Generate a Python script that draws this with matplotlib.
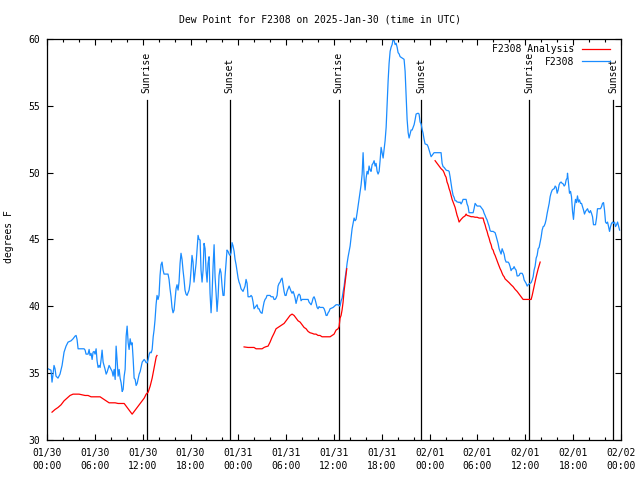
import numpy as np
import matplotlib
matplotlib.use("Agg")
import matplotlib.pyplot as plt
from matplotlib.ticker import MultipleLocator

# ---- data (hours since 2025-01-30 00:00 UTC, degrees F) ----
blue_t = [0.13, 0.50, 0.63, 0.76, 0.88, 1.01, 1.13, 1.38, 1.63, 1.89, 2.14, 2.39, 2.64, 3.02, 3.27, 3.52, 3.65, 3.77, 3.90, 4.27,
          4.65, 4.78, 4.90, 5.15, 5.28, 5.40, 5.53, 5.66, 5.78, 5.91, 6.03, 6.16, 6.28, 6.41, 6.54, 6.66, 6.79, 6.91, 7.04, 7.16,
          7.29, 7.42, 7.54, 7.67, 7.79, 7.92, 8.04, 8.17, 8.29, 8.42, 8.55, 8.67, 8.80, 8.92, 9.05, 9.17, 9.30, 9.43, 9.55, 9.68,
          9.80, 9.93, 10.05, 10.18, 10.30, 10.43, 10.56, 10.68, 10.81, 10.93, 11.06, 11.18, 11.31, 11.44, 11.56, 11.69, 11.81,
          11.94, 12.06, 12.19, 12.31, 12.44, 12.57, 12.69, 12.82, 12.94, 13.07, 13.19, 13.32,
          13.43, 13.55, 13.68, 13.8, 13.93, 14.05, 14.18, 14.3, 14.43, 14.56, 14.68, 14.93, 15.18, 15.31, 15.43, 15.56, 15.68,
          15.81, 15.94, 16.06, 16.19, 16.31, 16.44, 16.56, 16.69, 16.81, 16.94, 17.06, 17.19, 17.31, 17.44, 17.57, 17.69, 17.82,
          17.94, 18.07, 18.19, 18.32, 18.44, 18.57, 18.7, 18.82, 18.95, 19.07, 19.2, 19.32, 19.45, 19.58, 19.7, 19.83, 19.95,
          20.08, 20.2, 20.33, 20.45, 20.58, 20.7, 20.83, 20.96, 21.08, 21.21, 21.33, 21.46, 21.58, 21.71, 21.83, 21.96, 22.08,
          22.21, 22.33, 22.46, 22.58, 22.71, 22.84, 22.96, 23.09, 23.21, 23.34, 23.47,
          23.59, 23.72, 23.84, 23.97, 24.09, 24.22, 24.34, 24.47, 24.59, 24.72, 24.84, 24.97, 25.1, 25.22, 25.47, 25.6, 25.72,
          25.85, 25.97, 26.1, 26.22, 26.35, 26.48, 26.6, 26.73, 26.85, 26.98, 27.1, 27.23, 27.35, 27.48, 27.6, 27.73, 27.86,
          27.98, 28.11, 28.23, 28.36, 28.48, 28.61, 28.73, 28.86, 28.98, 29.11, 29.24, 29.36, 29.49, 29.61, 29.74, 29.86, 29.99,
          30.11, 30.24, 30.37, 30.49, 30.62, 30.74, 30.87, 30.99, 31.12, 31.24, 31.37, 31.49, 31.62, 31.75, 31.87, 32.0, 32.12,
          32.25, 32.37, 32.5, 32.62, 32.75, 32.87, 33.0, 33.13, 33.25, 33.38, 33.5, 33.63, 33.75, 33.88, 34.0, 34.13, 34.25,
          34.38, 34.5, 34.63, 34.76, 34.88, 35.01, 35.13, 35.26, 35.38,
          35.51, 35.89, 36.26, 36.51, 36.76, 36.89, 37.02, 37.14, 37.27, 37.39, 37.52, 37.64, 37.77, 37.89, 38.02, 38.14, 38.27,
          38.4, 38.52, 38.65, 38.77, 38.9, 39.02, 39.15, 39.27, 39.4, 39.53, 39.65, 39.78, 39.9, 40.03, 40.15, 40.28, 40.4,
          40.53, 40.65, 40.78, 40.9, 41.03, 41.16, 41.28, 41.41, 41.53, 41.66, 41.78, 41.91, 42.03, 42.16, 42.28, 42.41, 42.54,
          42.66, 42.79, 42.91, 43.04, 43.16, 43.29, 43.41, 43.54, 43.67, 43.79, 43.92, 44.04, 44.17, 44.29, 44.54, 44.79, 44.92,
          45.05, 45.17, 45.3, 45.42, 45.55, 45.67, 45.8, 45.92, 46.05,
          46.17, 46.3, 46.55, 46.67, 46.8, 46.92, 47.05, 47.17, 47.3, 47.42, 47.68, 47.8, 47.93, 48.05, 48.18, 48.3, 48.43,
          48.55, 48.8, 49.06, 49.31, 49.43, 49.56, 49.68, 49.81, 49.93, 50.06, 50.18, 50.31, 50.44, 50.56, 50.69, 50.81, 50.94,
          51.06, 51.19, 51.31, 51.44, 51.56, 51.69, 51.81, 51.94, 52.07, 52.19, 52.44, 52.57, 52.69, 52.82, 52.94, 53.2, 53.45,
          53.57, 53.7, 53.82, 53.95, 54.33, 54.58, 54.7, 54.83, 54.95, 55.08, 55.2, 55.33, 55.45, 55.58, 55.71, 55.96, 56.21,
          56.33, 56.46, 56.58, 56.71, 56.84, 56.96, 57.09, 57.21, 57.34, 57.46, 57.59, 57.84, 57.96, 58.09, 58.21, 58.34, 58.46,
          58.59, 58.71, 58.84, 58.97, 59.09, 59.22,
          59.35, 59.6, 59.73, 59.85, 60.1, 60.23, 60.35, 60.6, 60.73, 60.86, 60.98, 61.1, 61.23, 61.36, 61.48, 61.61, 61.73,
          61.86, 61.98, 62.11, 62.24, 62.36, 62.49, 62.61, 62.74, 62.86, 62.99, 63.11, 63.24, 63.37, 63.49, 63.62, 63.74, 63.87,
          63.99, 64.12, 64.24, 64.37, 64.49, 64.62, 64.75, 64.87, 65.0, 65.12, 65.25, 65.29, 65.41, 65.54, 65.67, 65.79, 65.92,
          66.04, 66.17, 66.29, 66.42, 66.54, 66.67, 66.79, 66.92, 67.05, 67.17, 67.3, 67.42, 67.55, 67.67, 67.8, 67.92, 68.05,
          68.17, 68.3, 68.43, 68.55, 68.8, 68.93, 69.05, 69.18, 69.3, 69.43, 69.56, 69.68, 69.81, 69.93, 70.06, 70.18, 70.31,
          70.44, 70.56, 70.69, 70.81, 70.94, 71.06, 71.19, 71.31, 71.44, 71.57, 71.69, 71.82]
blue_v = [35.3, 35.2, 34.3, 34.9, 35.55, 35.3, 34.75, 34.6, 34.9, 35.55, 36.55, 37.0, 37.3, 37.4, 37.55, 37.75, 37.8, 37.5, 36.8, 36.8,
          36.8, 36.7, 36.4, 36.4, 36.75, 36.3, 36.45, 36.0, 36.55, 36.6, 36.4, 36.8, 35.9, 35.4, 35.55, 35.4, 36.0, 36.7, 35.8, 35.55,
          35.25, 34.9, 35.05, 35.3, 35.55, 35.4, 35.25, 35.1, 34.75, 35.25, 34.5, 37.0, 35.9, 34.75, 35.25, 34.6, 34.25, 33.6, 33.75, 34.75,
          35.25, 37.75, 38.5, 37.25, 36.75, 37.55, 37.1, 37.25, 36.0, 34.6, 34.5, 34.05, 34.2, 34.55, 34.9, 35.1, 35.45,
          35.8, 35.9, 36.0, 35.9, 35.75, 35.75, 36.0, 36.4, 36.55, 36.5, 36.75, 37.7,
          38.2, 38.96, 40.1, 40.8, 40.5, 40.8, 42.3, 43.1, 43.3, 42.7, 42.4, 42.4, 42.4, 42.0, 41.3, 40.7, 39.9,
          39.5, 39.7, 40.5, 41.3, 41.6, 41.2, 41.8, 43.2, 43.96, 43.5, 42.7, 42.0, 41.2, 40.9, 40.8, 41.0, 41.2,
          41.7, 42.7, 43.8, 43.3, 41.8, 42.5, 43.2, 44.2, 45.3, 45.0, 44.96, 42.7, 41.8, 42.7, 44.7, 44.3, 42.7,
          41.8, 43.2, 43.7, 40.96, 39.5, 40.8, 42.96, 44.6, 42.2, 40.96, 39.6, 40.7, 42.3, 42.8, 42.5, 41.5, 40.8,
          40.8, 42.2, 43.3, 44.2, 44.1, 43.9, 43.8, 44.0, 44.76, 44.5, 44.1,
          43.5, 43.1, 42.6, 42.1, 41.8, 41.6, 41.3, 41.2, 41.1, 41.3, 41.5, 42.0, 41.7, 40.7, 40.7, 40.8, 40.7,
          40.3, 39.8, 39.9, 40.0, 40.1, 39.8, 39.8, 39.6, 39.5, 39.46, 39.9, 40.3, 40.5, 40.6, 40.8, 40.8, 40.8,
          40.8, 40.7, 40.7, 40.7, 40.5, 40.5, 40.6, 40.8, 41.5, 41.7, 41.8, 42.0, 42.1, 41.6, 41.1, 40.8, 40.8,
          41.1, 41.3, 41.5, 41.3, 41.1, 40.96, 41.1, 40.9, 40.6, 40.2, 40.5, 40.8, 40.9, 40.8, 40.4, 40.5, 40.5,
          40.5, 40.5, 40.5, 40.5, 40.5, 40.3, 40.2, 40.1, 40.3, 40.6, 40.7, 40.5, 40.2, 39.9, 39.8, 39.96, 39.9,
          39.9, 39.9, 39.9, 39.8, 39.6, 39.3, 39.3, 39.5, 39.6,
          39.8, 39.9, 40.1, 40.1, 40.0, 40.4, 40.6, 41.06, 41.5, 42.1, 42.6, 43.2, 43.7, 44.1, 44.5, 45.1, 45.8,
          46.2, 46.6, 46.4, 46.5, 46.99, 47.5, 48.0, 48.6, 49.1, 49.9, 51.5, 49.6, 48.7, 49.6, 50.1, 49.9, 50.5,
          50.2, 50.1, 50.6, 50.7, 50.9, 50.5, 50.7, 50.1, 49.9, 50.1, 50.9, 51.9, 51.5, 51.1, 51.7, 52.4, 53.4,
          55.1, 56.9, 58.2, 59.1, 59.4, 59.6, 60.0, 59.9, 59.6, 59.7, 59.4, 59.0, 58.9, 58.7, 58.6, 58.5, 57.6,
          55.7, 54.0, 53.0, 52.6, 52.9, 53.2, 53.2, 53.4, 53.6,
          53.96, 54.4, 54.46, 54.4, 53.8, 53.66, 53.26, 52.96, 52.5, 52.16, 52.1, 51.96, 51.7, 51.46, 51.2, 51.3, 51.4,
          51.5, 51.5, 51.5, 51.5, 51.5, 50.7, 50.46, 50.4, 50.3, 50.2, 50.16, 50.16, 50.1, 49.7, 49.2, 48.7, 48.3,
          48.16, 47.9, 47.9, 47.8, 47.8, 47.76, 47.8, 47.66, 47.8, 48.0, 48.0, 48.0, 47.66, 47.46, 47.0, 47.0, 47.0,
          47.3, 47.7, 47.6, 47.5, 47.5, 47.3, 47.2, 46.96, 46.8, 46.6, 46.46, 46.2, 46.0, 45.66, 45.6, 45.6, 45.5,
          45.26, 44.96, 44.7, 44.3, 44.1, 43.9, 44.3, 44.1, 43.9, 43.5, 43.3, 43.3, 43.2, 42.96, 42.66, 42.8, 42.8,
          42.96, 42.8, 42.7, 42.26, 42.26, 42.3,
          42.46, 42.46, 42.3, 41.96, 41.7, 41.5, 41.6, 41.7, 41.76, 41.96, 42.2, 42.7, 43.0, 43.6, 43.8, 44.3, 44.4,
          44.8, 45.16, 45.7, 45.96, 46.0, 46.2, 46.5, 46.96, 47.3, 47.7, 48.2, 48.5, 48.7, 48.76, 48.8, 49.0, 48.9,
          48.46, 48.7, 49.1, 49.26, 49.3, 49.2, 49.16, 49.0, 49.1, 49.46, 49.6, 49.96, 49.2, 48.46, 48.6, 48.2, 47.1,
          46.5, 47.46, 48.0, 47.76, 48.26, 47.8, 47.96, 47.7, 47.7, 47.46, 47.2, 46.9, 47.1, 47.2, 47.3, 47.1, 47.0,
          47.16, 46.96, 46.7, 46.1, 46.1, 46.6, 47.3, 47.3, 47.3, 47.3, 47.46, 47.7, 47.76, 47.2, 46.3, 46.2, 46.3,
          45.96, 45.6, 45.96, 46.2, 46.3, 46.2, 46.3, 45.96, 46.1, 46.3, 46.0, 45.7]

red_t = [0.63, 1.01, 1.38, 1.76, 2.14, 2.51, 2.89, 3.27, 3.65, 4.02, 4.4, 4.78, 5.15, 5.53, 5.91, 6.28, 6.66, 7.04, 7.42,
         7.79, 8.17, 8.55, 8.92, 9.3, 9.68, 10.05, 10.43, 10.68, 11.06, 11.44, 11.81, 12.19, 12.44, 12.69, 12.94, 13.19,
         13.45, 13.70, 13.8,
         None,
         24.72, 25.22, 25.72, 25.97, 26.22, 26.48, 26.73, 26.98, 27.23, 27.48, 27.73, 27.98, 28.23, 28.48, 28.73, 28.98,
         29.24, 29.49, 29.74, 29.99, 30.24, 30.49, 30.74, 30.99, 31.24, 31.49, 31.75, 32.0, 32.25, 32.5, 32.75, 33.0, 33.25,
         33.5, 33.75, 34.0, 34.25, 34.5, 34.76, 35.01, 35.26, 35.51, 35.76, 36.01, 36.26, 36.51, 36.64, 36.76, 36.89, 37.01,
         37.14, 37.26, 37.6,
         None,
         48.68, 48.93, 49.18, 49.43, 49.68, 49.81, 49.93, 50.06, 50.18, 50.31, 50.44, 50.56, 50.69, 50.81, 50.94, 51.06,
         51.19, 51.31, 51.44, 51.56, 51.69, 51.81, 51.94, 52.19, 52.44, 52.57, 52.69, 52.94, 53.2, 53.45, 53.7, 53.95, 54.2,
         54.45, 54.7, 54.83, 54.95, 55.08, 55.2, 55.33, 55.45, 55.58, 55.71, 55.83, 55.96, 56.08, 56.21, 56.33, 56.46, 56.58,
         56.71, 56.84, 56.96, 57.09, 57.21, 57.34, 57.46, 57.71, 57.96, 58.21, 58.46, 58.71, 58.97, 59.22, 59.47, 59.72,
         59.97, 60.22, 60.47, 60.6, 60.73, 60.86, 61.1, 61.36, 61.61, 61.86]
red_v = [32.05, 32.25, 32.4, 32.6, 32.9, 33.1, 33.3, 33.4, 33.4, 33.4, 33.35, 33.3, 33.3, 33.2, 33.2, 33.2, 33.2, 33.05, 32.9,
         32.75, 32.75, 32.75, 32.7, 32.7, 32.7, 32.4, 32.1, 31.9, 32.2, 32.5, 32.8, 33.1, 33.4, 33.55, 34.0, 34.6,
         35.4, 36.2, 36.3,
         None,
         36.94, 36.9, 36.9, 36.9, 36.8, 36.8, 36.8, 36.8, 36.9, 36.96, 37.0, 37.3, 37.66, 37.96, 38.3, 38.4,
         38.5, 38.6, 38.7, 38.9, 39.1, 39.3, 39.4, 39.3, 39.1, 38.9, 38.8, 38.6, 38.4, 38.3, 38.1, 38.0, 37.96,
         37.9, 37.9, 37.8, 37.8, 37.7, 37.7, 37.7, 37.7, 37.7, 37.8, 37.9, 38.2, 38.3, 38.46, 39.1, 39.3, 39.7,
         40.3, 41.1, 42.8,
         None,
         50.9, 50.7, 50.5, 50.3, 50.16, 50.0, 49.8, 49.66, 49.3, 49.1, 48.8, 48.6, 48.3, 48.0, 47.8, 47.6,
         47.4, 47.1, 46.8, 46.6, 46.3, 46.4, 46.5, 46.66, 46.76, 46.9, 46.8, 46.76, 46.7, 46.7, 46.66, 46.66, 46.6,
         46.6, 46.6, 46.3, 46.1, 45.8, 45.6, 45.3, 45.1, 44.8, 44.6, 44.3, 44.2, 43.96, 43.8, 43.6, 43.4, 43.2,
         43.0, 42.8, 42.66, 42.46, 42.3, 42.2, 42.04, 41.9, 41.76, 41.6, 41.46, 41.26, 41.1, 40.9, 40.7, 40.5,
         40.5, 40.5, 40.5, 40.5, 40.5, 40.8, 41.46, 42.2, 42.8, 43.3]

sunrise_t = [12.52, 36.6, 60.5]
sunset_t = [22.9, 46.95, 71.05]

x_tick_labels = ["01/30\n00:00", "01/30\n06:00", "01/30\n12:00", "01/30\n18:00",
                 "01/31\n00:00", "01/31\n06:00", "01/31\n12:00", "01/31\n18:00",
                 "02/01\n00:00", "02/01\n06:00", "02/01\n12:00", "02/01\n18:00", "02/02\n00:00"]
y_ticks = [30, 35, 40, 45, 50, 55, 60]

title = "Dew Point for F2308 on 2025-Jan-30 (time in UTC)"

# ---- plotting ----
FONT = "DejaVu Sans Mono"
FS = 7
plt.rcParams['font.family'] = [FONT]

fig = plt.figure(figsize=(6.4, 4.8), dpi=100)
ax = fig.add_axes([47/640, 1 - 439.5/480, 574/640, 400.2/480])

rt = np.array([np.nan if v is None else v for v in red_t], dtype=float)
rv = np.array([np.nan if v is None else v for v in red_v], dtype=float)

line_top = 55.46
for t in sunrise_t:
    ax.plot([t, t], [30, line_top], color='black', lw=0.9, zorder=1)
    ax.text(t, 56.0, "Sunrise", rotation=90, ha='center', va='bottom', fontsize=FS, family=FONT)
for t in sunset_t:
    ax.plot([t, t], [30, line_top], color='black', lw=0.9, zorder=1)
    ax.text(t, 56.0, "Sunset", rotation=90, ha='center', va='bottom', fontsize=FS, family=FONT)

ax.plot(rt, rv, color='#ff0000', lw=0.9, label="F2308 Analysis", zorder=3)
ax.plot(blue_t, blue_v, color='#1a8cff', lw=0.9, label="F2308", zorder=2)

ax.set_xlim(0, 72)
ax.set_ylim(30, 60)
ax.set_xticks(np.arange(0, 73, 6))
ax.set_xticklabels(x_tick_labels, fontsize=FS, family=FONT, linespacing=1.45)
ax.xaxis.set_minor_locator(MultipleLocator(2))
ax.set_yticks(y_ticks)
ax.set_yticklabels([str(v) for v in y_ticks], fontsize=FS, family=FONT)

ax.tick_params(axis='both', which='both', direction='in', top=True, right=True, width=0.8)
ax.tick_params(axis='both', which='major', length=4)
ax.tick_params(axis='both', which='minor', length=2.5)
ax.tick_params(axis='x', which='major', pad=6)
ax.tick_params(axis='y', which='major', pad=5)
for s in ax.spines.values():
    s.set_linewidth(0.9)

ax.set_ylabel("degrees F", fontsize=FS, family=FONT)
ax.yaxis.set_label_coords(-0.057, 0.507)

fig.text(0.5, 1 - 19/480, title, ha='center', va='center', fontsize=FS, family=FONT)

ax.legend(loc='upper right', bbox_to_anchor=(0.981, 0.988), frameon=False, markerfirst=False,
          fontsize=FS, handlelength=2.9, handletextpad=0.8, borderaxespad=0, borderpad=0,
          labelspacing=0.25, prop={'family': FONT, 'size': FS})

fig.savefig("out.png", dpi=100)
